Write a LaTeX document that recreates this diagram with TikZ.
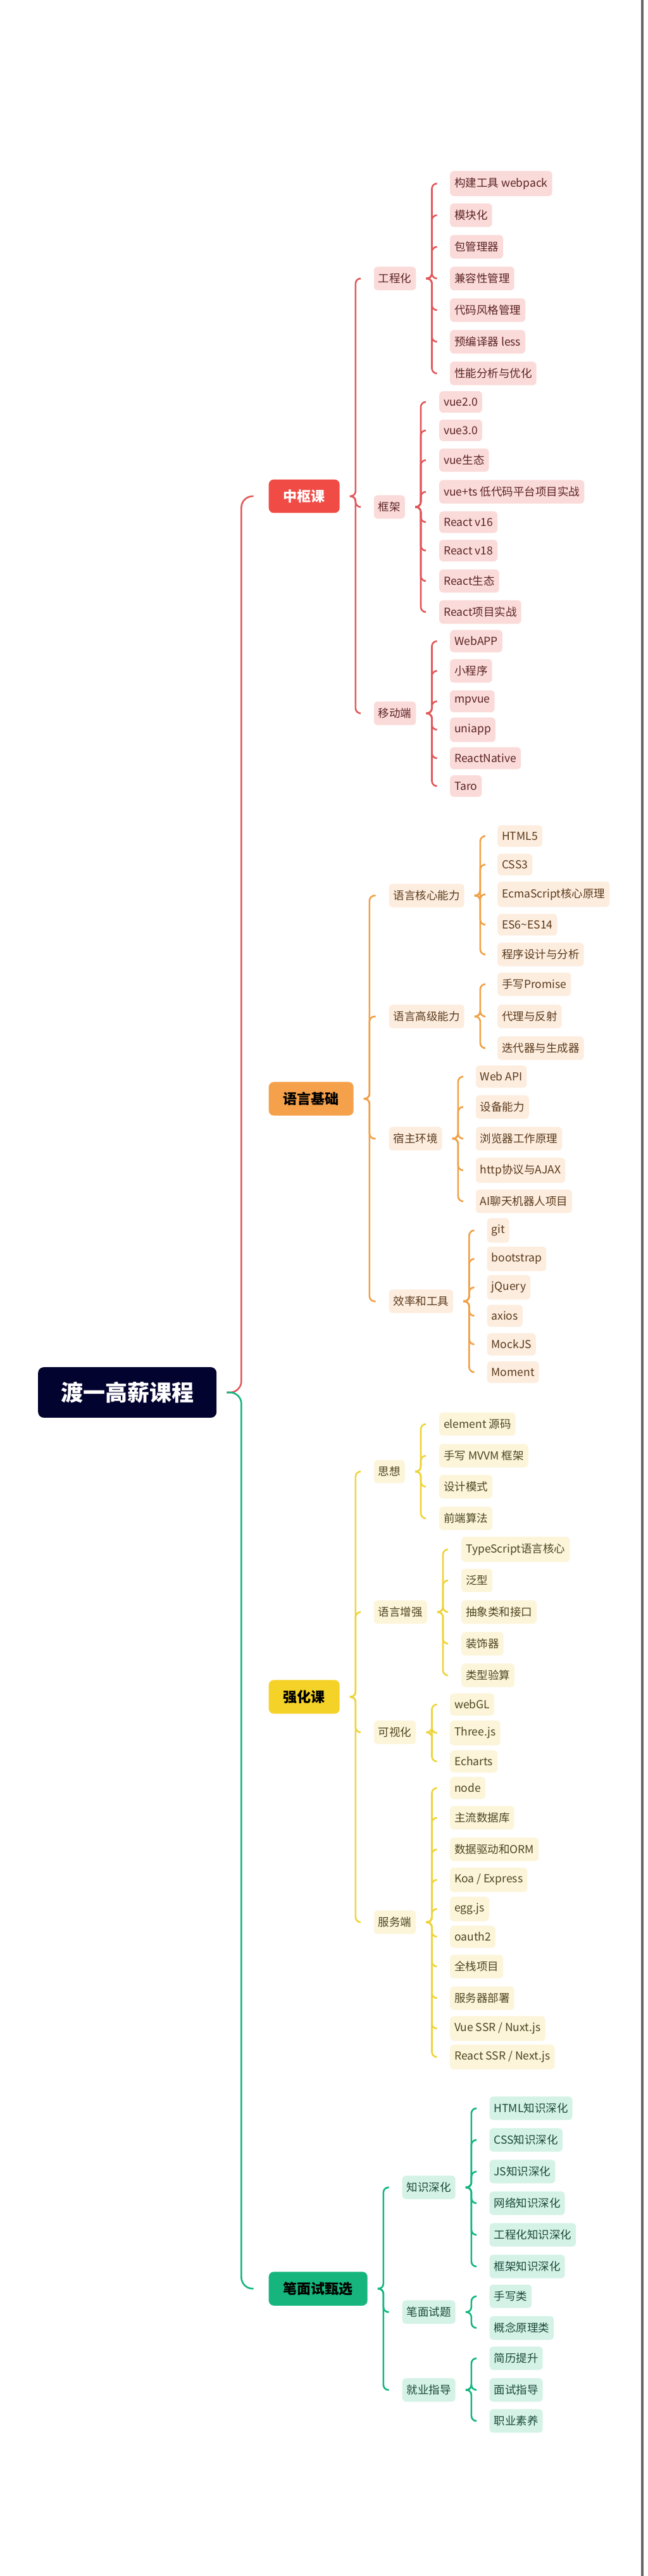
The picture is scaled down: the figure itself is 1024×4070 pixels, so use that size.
\documentclass[tikz,border=0pt]{standalone}
\usepackage{fontspec}
\setmainfont{Noto Sans CJK SC}
\usetikzlibrary{positioning}

\definecolor{rootbg}{HTML}{03032F}
\definecolor{zsline}{HTML}{E2575A}
\definecolor{zsfill}{HTML}{F04B45}
\definecolor{zsleaf}{HTML}{FADBD9}
\definecolor{zstxt}{HTML}{5C2424}
\definecolor{yyline}{HTML}{F0A045}
\definecolor{yyfill}{HTML}{F5A14B}
\definecolor{yyleaf}{HTML}{FDEDDF}
\definecolor{yytxt}{HTML}{5A3A1C}
\definecolor{qhline}{HTML}{EDD43A}
\definecolor{qhfill}{HTML}{F4D227}
\definecolor{qhleaf}{HTML}{FCF5DA}
\definecolor{qhtxt}{HTML}{4F4520}
\definecolor{bmline}{HTML}{12B57D}
\definecolor{bmfill}{HTML}{17B57E}
\definecolor{bmleaf}{HTML}{D5F2E7}
\definecolor{bmtxt}{HTML}{1A4A3A}

\begin{document}
\begin{tikzpicture}[
    x=1pt, y=-1pt,
    root/.style={fill=rootbg, text=white, rounded corners=9pt, anchor=west,
                 inner xsep=36pt, inner ysep=23pt, font=\fontsize{35}{40}\selectfont\bfseries},
    topic/.style={fill=#1fill, text=black, rounded corners=8pt, anchor=west,
                  inner xsep=23pt, inner ysep=16pt, font=\fontsize{22}{26}\selectfont\bfseries},
    leaf/.style={fill=#1leaf, text=#1txt, rounded corners=6pt, anchor=west,
                 inner xsep=7pt, inner ysep=10.5pt, font=\fontsize{17.5}{21}\selectfont},
    link/.style={draw=#1line, line width=2.6pt, rounded corners=8pt},
  ]
  \useasboundingbox (0,0) rectangle (1024,4070);
  \fill[black!60] (1013,0) rectangle (1017,4070);

  % root and main topics
  \node[root] (root) at (60,2200) {渡一高薪课程};
  \node[topic=zs, text=white] (zs) at (424.5,784) {中枢课};
  \node[topic=yy] (yy) at (424.5,1736) {语言基础};
  \node[topic=qh] (qh) at (424.5,2681) {强化课};
  \node[topic=bm] (bm) at (424.5,3616) {笔面试甄选};

  % second level
  \foreach \name/\pos/\txt/\c in {
      gch/{(590.6,440)}/工程化/zs, kj/{(590.6,801)}/框架/zs, ydd/{(590.6,1127)}/移动端/zs,
      yyhx/{(614.5,1415)}/语言核心能力/yy, yygj/{(614.5,1606)}/语言高级能力/yy,
      szhj/{(614.5,1799)}/宿主环境/yy, xlgj/{(614.5,2056)}/效率和工具/yy,
      sx/{(590.6,2325)}/思想/qh, yyzq/{(590.6,2547)}/语言增强/qh,
      ksh/{(590.6,2737)}/可视化/qh, fwd/{(590.6,3037)}/服务端/qh,
      zssh/{(635.5,3456)}/知识深化/bm, bmst/{(635.5,3653)}/笔面试题/bm, jyzd/{(635.5,3776)}/就业指导/bm}
    \node[leaf=\c] (\name) at \pos {\txt};

  % leaves
  \foreach \y/\txt [count=\i] in {290/构建工具 webpack, 340/模块化, 390/包管理器,
      440/兼容性管理, 490/代码风格管理, 540/预编译器 less, 590/性能分析与优化}
    \node[leaf=zs] (gch\i) at (711,\y) {\txt};
  \foreach \y/\txt [count=\i] in {635/vue2.0, 680/vue3.0, 727/vue生态,
      777/vue+ts 低代码平台项目实战, 825/React v16, 870/React v18, 918/React生态, 967/React项目实战}
    \node[leaf=zs] (kj\i) at (694,\y) {\txt};
  \foreach \y/\txt [count=\i] in {1013/WebAPP, 1060/小程序, 1108/mpvue, 1153/uniapp,
      1198/ReactNative, 1242/Taro}
    \node[leaf=zs] (ydd\i) at (711,\y) {\txt};

  \foreach \y/\txt [count=\i] in {1321/HTML5, 1366/CSS3, 1413/EcmaScript核心原理,
      1461/ES6\textasciitilde ES14, 1508/程序设计与分析}
    \node[leaf=yy] (yyhx\i) at (786,\y) {\txt};
  \foreach \y/\txt [count=\i] in {1555/手写Promise, 1606/代理与反射, 1656/迭代器与生成器}
    \node[leaf=yy] (yygj\i) at (786,\y) {\txt};
  \foreach \y/\txt [count=\i] in {1701/Web API, 1749/设备能力, 1799/浏览器工作原理,
      1849/http协议与AJAX, 1898/AI聊天机器人项目}
    \node[leaf=yy] (szhj\i) at (751.6,\y) {\txt};
  \foreach \y/\txt [count=\i] in {1944/git, 1989/bootstrap, 2034/jQuery, 2079/axios,
      2124/MockJS, 2168/Moment}
    \node[leaf=yy] (xlgj\i) at (769.4,\y) {\txt};

  \foreach \y/\txt [count=\i] in {2250/element 源码, 2300/手写 MVVM 框架, 2349/设计模式, 2399/前端算法}
    \node[leaf=qh] (sx\i) at (694,\y) {\txt};
  \foreach \y/\txt [count=\i] in {2448/TypeScript语言核心, 2497/泛型, 2547/抽象类和接口,
      2597/装饰器, 2647/类型验算}
    \node[leaf=qh] (yyzq\i) at (729,\y) {\txt};
  \foreach \y/\txt [count=\i] in {2693/webGL, 2738/Three.js, 2783/Echarts}
    \node[leaf=qh] (ksh\i) at (711,\y) {\txt};
  \foreach \y/\txt [count=\i] in {2825/node, 2872/主流数据库, 2922/数据驱动和ORM,
      2970/{Koa / Express}, 3016/egg.js, 3060/oauth2, 3107/全栈项目, 3157/服务器部署,
      3205/{Vue SSR / Nuxt.js}, 3250/{React SSR / Next.js}}
    \node[leaf=qh] (fwd\i) at (711,\y) {\txt};

  \foreach \y/\txt [count=\i] in {3331/HTML知识深化, 3381/CSS知识深化, 3431/JS知识深化,
      3481/网络知识深化, 3531/工程化知识深化, 3581/框架知识深化}
    \node[leaf=bm] (zssh\i) at (773.4,\y) {\txt};
  \foreach \y/\txt [count=\i] in {3628/手写类, 3678/概念原理类}
    \node[leaf=bm] (bmst\i) at (773.4,\y) {\txt};
  \foreach \y/\txt [count=\i] in {3726/简历提升, 3776/面试指导, 3825/职业素养}
    \node[leaf=bm] (jyzd\i) at (773.4,\y) {\txt};

  % brace connectors
  \coordinate (root-t) at ([xshift=16pt]root.east);
  \coordinate (root-v) at ([xshift=39pt]root.east);
  \foreach \c/\k in {zs/zs, bm/bm}
    \path[link=\k, rounded corners=18pt] (root-t) -| (root-v |- \c.west) -- ([xshift=-24pt]\c.west);

  \foreach \p in {zs,yy,qh,bm,gch,kj,ydd,yyhx,yygj,szhj,xlgj,sx,yyzq,ksh,fwd,zssh,bmst,jyzd} {
    \coordinate (\p-t) at ([xshift=16pt]\p.east);
    \coordinate (\p-v) at ([xshift=25pt]\p.east);
  }
  \foreach \p/\c/\k in {zs/gch/zs, zs/kj/zs, zs/ydd/zs,
      yy/yyhx/yy, yy/yygj/yy, yy/szhj/yy, yy/xlgj/yy,
      qh/sx/qh, qh/yyzq/qh, qh/ksh/qh, qh/fwd/qh,
      bm/zssh/bm, bm/bmst/bm, bm/jyzd/bm}
    \path[link=\k] (\p-t) -| (\p-v |- \c.west) -- ([xshift=-21pt]\c.west);
  \foreach \p/\n/\k in {gch/7/zs, kj/8/zs, ydd/6/zs, yyhx/5/yy, yygj/3/yy, szhj/5/yy,
      xlgj/6/yy, sx/4/qh, yyzq/5/qh, ksh/3/qh, fwd/10/qh, zssh/6/bm, bmst/2/bm, jyzd/3/bm}
    \foreach \i in {1,...,\n}
      \path[link=\k] (\p-t) -| (\p-v |- \p\i.west) -- ([xshift=-21pt]\p\i.west);
\end{tikzpicture}
\end{document}
